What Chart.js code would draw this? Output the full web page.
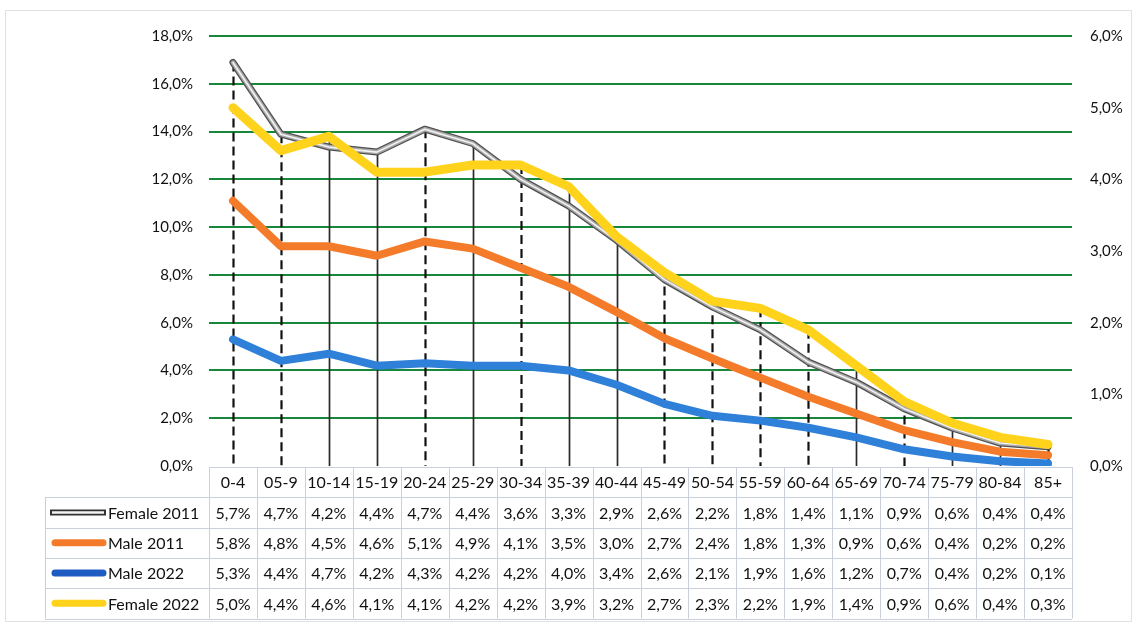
<!DOCTYPE html>
<html>
<head>
<meta charset="utf-8">
<script src="https://cdn.jsdelivr.net/npm/chart.js@4.4.1/dist/chart.umd.min.js"></script>
<style>
  html, body { margin: 0; padding: 0; background: #ffffff; }
  #wrap { position: relative; width: 1137px; height: 628px; }
</style>
</head>
<body>
<div id="wrap"><canvas id="chart" width="1137" height="628"></canvas></div>
<script>
// Age groups (category axis and table header)
const ageGroups = ['0-4','05-9','10-14','15-19','20-24','25-29','30-34','35-39','40-44',
                   '45-49','50-54','55-59','60-64','65-69','70-74','75-79','80-84','85+'];

// Shares printed in the data table (%)
const female2011Pct = [5.7,4.7,4.2,4.4,4.7,4.4,3.6,3.3,2.9,2.6,2.2,1.8,1.4,1.1,0.9,0.6,0.4,0.4];
const male2011Pct   = [5.8,4.8,4.5,4.6,5.1,4.9,4.1,3.5,3.0,2.7,2.4,1.8,1.3,0.9,0.6,0.4,0.2,0.2];
const male2022Pct   = [5.3,4.4,4.7,4.2,4.3,4.2,4.2,4.0,3.4,2.6,2.1,1.9,1.6,1.2,0.7,0.4,0.2,0.1];
const female2022Pct = [5.0,4.4,4.6,4.1,4.1,4.2,4.2,3.9,3.2,2.7,2.3,2.2,1.9,1.4,0.9,0.6,0.4,0.3];

// Plotted curves for the 2011 series
const female2011Line = [5.63,4.63,4.45,4.38,4.7,4.5,4.0,3.63,3.15,2.6,2.22,1.9,1.45,1.17,0.8,0.53,0.32,0.27]; // secondary axis
const male2011Line   = [11.1,9.2,9.2,8.8,9.4,9.1,8.3,7.5,6.45,5.35,4.5,3.7,2.9,2.2,1.5,1.0,0.6,0.45];        // primary axis

// Axis tick values
const leftTicks  = [0,2,4,6,8,10,12,14,16,18];
const rightTicks = [0,1,2,3,4,5,6];

// Drop line style per age group (true = dashed)
const dropDashed = [true,true,false,false,true,false,true,false,false,true,true,true,true,false,true,false,false,true];

const FONT = 'Lato, "Open Sans", sans-serif';
const TEXT = '#111111';
const GREEN = '#17873b';
const YELLOW = '#ffd21c';
const ORANGE = '#f47b2a';
const BLUE = '#2f80d8';

const pct = v => v.toFixed(1).replace('.', ',') + '%';

const tableRows = [
  { name: 'Female 2011', values: female2011Pct, key: 'double' },
  { name: 'Male 2011',   values: male2011Pct,   key: ORANGE },
  { name: 'Male 2022',   values: male2022Pct,   key: '#1f5cc2' },
  { name: 'Female 2022', values: female2022Pct, key: YELLOW }
];

// Vertical drop lines from the highest point of each age group down to the axis
const dropLines = {
  id: 'dropLines',
  beforeDatasetsDraw(chart) {
    const { ctx, chartArea } = chart;
    const metas = chart.getSortedVisibleDatasetMetas();
    ageGroups.forEach((g, i) => {
      let top = chartArea.bottom, x = null;
      metas.forEach(m => {
        const p = m.data[i];
        if (p) { top = Math.min(top, p.y); x = p.x; }
      });
      if (x === null) return;
      ctx.save();
      ctx.beginPath();
      if (dropDashed[i]) {
        ctx.setLineDash([9, 5]);
        ctx.strokeStyle = '#111';
        ctx.lineWidth = 2.2;
      } else {
        ctx.strokeStyle = '#2a2a2a';
        ctx.lineWidth = 1.7;
      }
      ctx.moveTo(Math.round(x) + 0.5, top);
      ctx.lineTo(Math.round(x) + 0.5, chartArea.bottom);
      ctx.stroke();
      ctx.restore();
    });
  }
};

// Data table under the plot, with legend keys in the first column
const dataTable = {
  id: 'dataTable',
  afterDraw(chart) {
    const { ctx, chartArea } = chart;
    const xs = chart.scales.x;
    const colW = (chartArea.right - chartArea.left) / ageGroups.length;
    const top = chartArea.bottom + 1;
    const rowH = 30.3;
    const keyLeft = 45;
    const tRight = chartArea.right;
    ctx.save();
    ctx.strokeStyle = '#c9cfdc';
    ctx.lineWidth = 1;
    // horizontal rules
    for (let r = 0; r <= 5; r++) {
      const y = Math.round(top + r * rowH) + 0.5;
      ctx.beginPath();
      ctx.moveTo(r === 0 ? chartArea.left : keyLeft, y);
      ctx.lineTo(tRight, y);
      ctx.stroke();
    }
    // vertical rules
    for (let c = 0; c <= ageGroups.length; c++) {
      const x = Math.round(chartArea.left + c * colW) + 0.5;
      ctx.beginPath();
      ctx.moveTo(x, top);
      ctx.lineTo(x, top + 5 * rowH);
      ctx.stroke();
    }
    ctx.beginPath();
    ctx.moveTo(keyLeft + 0.5, top + rowH);
    ctx.lineTo(keyLeft + 0.5, top + 5 * rowH);
    ctx.stroke();

    ctx.fillStyle = TEXT;
    ctx.font = '16px ' + FONT;
    ctx.textAlign = 'center';
    ctx.textBaseline = 'middle';
    ageGroups.forEach((g, i) => {
      ctx.fillText(g, xs.getPixelForValue(i), top + rowH / 2 + 1);
    });
    tableRows.forEach((row, r) => {
      const cy = top + (r + 1.5) * rowH + 1;
      row.values.forEach((v, i) => {
        ctx.fillText(pct(v), xs.getPixelForValue(i), cy);
      });
    });
    // legend keys and names
    tableRows.forEach((row, r) => {
      const cy = top + (r + 1.5) * rowH;
      if (row.key === 'double') {
        ctx.lineCap = 'butt';
        ctx.strokeStyle = '#333';
        ctx.lineWidth = 6;
        ctx.beginPath(); ctx.moveTo(50, cy); ctx.lineTo(106, cy); ctx.stroke();
        ctx.strokeStyle = '#f4f4f4';
        ctx.lineWidth = 2.5;
        ctx.beginPath(); ctx.moveTo(52, cy); ctx.lineTo(104, cy); ctx.stroke();
      } else {
        ctx.lineCap = 'round';
        ctx.strokeStyle = row.key;
        ctx.lineWidth = 7;
        ctx.beginPath(); ctx.moveTo(55, cy); ctx.lineTo(103, cy); ctx.stroke();
      }
      ctx.fillStyle = TEXT;
      ctx.textAlign = 'left';
      ctx.fillText(row.name, 108, cy + 1);
    });
    // faint outer frame
    ctx.strokeStyle = '#e2e2e2';
    ctx.lineWidth = 1;
    ctx.strokeRect(5.5, 10.5, 1126, 611);
    ctx.restore();
  }
};

const lineStyle = { pointRadius: 0, pointHoverRadius: 0, tension: 0, borderJoinStyle: 'round', borderCapStyle: 'round', fill: false };

new Chart(document.getElementById('chart'), {
  type: 'line',
  data: {
    labels: ageGroups,
    datasets: [
      Object.assign({ label: 'Female 2022', data: female2022Pct, yAxisID: 'y1', borderColor: YELLOW, borderWidth: 9, order: 0 }, lineStyle),
      // Female 2011 is drawn as a compound line: dark edges, grey body, light centre
      Object.assign({ label: 'Female 2011', data: female2011Line, yAxisID: 'y1', borderColor: '#f2f2f2', borderWidth: 1.6, order: 1 }, lineStyle),
      Object.assign({ label: 'Female 2011 body', data: female2011Line, yAxisID: 'y1', borderColor: '#a9a9a9', borderWidth: 4.5, order: 2 }, lineStyle),
      Object.assign({ label: 'Female 2011 edge', data: female2011Line, yAxisID: 'y1', borderColor: '#4f4f4f', borderWidth: 7, order: 3 }, lineStyle),
      Object.assign({ label: 'Male 2022', data: male2022Pct, yAxisID: 'y', borderColor: BLUE, borderWidth: 8, order: 4 }, lineStyle),
      Object.assign({ label: 'Male 2011', data: male2011Line, yAxisID: 'y', borderColor: ORANGE, borderWidth: 8, order: 5 }, lineStyle)
    ]
  },
  options: {
    responsive: false,
    animation: false,
    events: [],
    layout: { padding: { top: 36, bottom: 162, left: 0, right: 0 } },
    plugins: { legend: { display: false }, tooltip: { enabled: false } },
    scales: {
      x: { type: 'category', offset: true, display: false },
      y: {
        position: 'left', min: 0, max: 18,
        afterBuildTicks: s => { s.ticks = leftTicks.map(v => ({ value: v })); },
        afterFit: s => { s.width = 209; },
        ticks: { callback: v => pct(v), color: TEXT, font: { family: FONT, size: 15 }, padding: 16 },
        grid: { drawTicks: false, lineWidth: 2, color: c => (c.tick && c.tick.value === 0) ? 'rgba(0,0,0,0)' : GREEN },
        border: { display: false }
      },
      y1: {
        position: 'right', min: 0, max: 6,
        afterBuildTicks: s => { s.ticks = rightTicks.map(v => ({ value: v })); },
        afterFit: s => { s.width = 65; },
        ticks: { callback: v => pct(v), color: TEXT, font: { family: FONT, size: 15 }, padding: 18 },
        grid: { display: false, drawTicks: false },
        border: { display: false }
      }
    }
  },
  plugins: [dropLines, dataTable]
});
</script>
</body>
</html>
